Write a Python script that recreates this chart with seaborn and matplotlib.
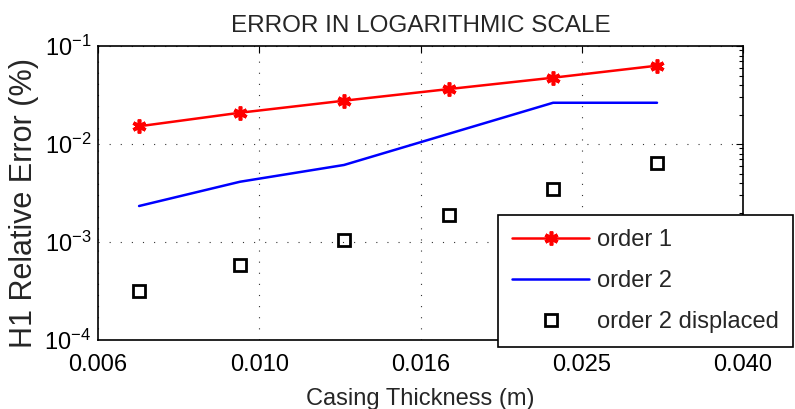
import matplotlib
matplotlib.use("Agg")
import matplotlib.pyplot as plt
import seaborn as sns
import numpy as np
import pandas as pd
from matplotlib.ticker import LogLocator, NullLocator, FixedLocator, FixedFormatter

# ---- data ----
thickness = [0.00677, 0.00911, 0.01237, 0.01685, 0.02288, 0.03106]
order1 = [0.01517, 0.02086, 0.02767, 0.0364, 0.0475, 0.0630]
order2 = [0.00233, 0.00412, 0.00611, 0.01274, 0.02636, 0.02636]
order2_displaced = [0.000318, 0.000578, 0.001047, 0.001887, 0.003475, 0.00636]

x_ticks = [0.006, 0.00964, 0.0155, 0.0249, 0.040]
x_tick_labels = ["0.006", "0.010", "0.016", "0.025", "0.040"]

df = pd.DataFrame({"x": thickness, "o1": order1, "o2": order2, "o2d": order2_displaced})

sns.set_style("white")
plt.rcParams["font.family"] = ["Liberation Sans", "DejaVu Sans"]
plt.rcParams["mathtext.fontset"] = "custom"
plt.rcParams["mathtext.rm"] = "Liberation Sans"
plt.rcParams["mathtext.it"] = "Liberation Sans:italic"

FS = 17

fig = plt.figure(figsize=(7.95, 4.09), dpi=100)
ax = fig.add_axes([0.1233, 0.1687, 0.9346 - 0.1233, 0.8875 - 0.1687])

sns.lineplot(data=df, x="x", y="o1", ax=ax, color="red", linewidth=1.8,
             marker=(6, 2, 0), markersize=10, markeredgecolor="red", markeredgewidth=2.6,
             label="order 1")
sns.lineplot(data=df, x="x", y="o2", ax=ax, color="blue", linewidth=1.8,
             label="order 2")
sns.lineplot(data=df, x="x", y="o2d", ax=ax, color="black", linestyle="",
             marker="s", markersize=9, markerfacecolor="none",
             markeredgecolor="black", markeredgewidth=2.0,
             label="order 2 displaced")

ax.set_xscale("log")
ax.set_yscale("log")
ax.set_xlim(0.006, 0.040)
ax.set_ylim(1e-4, 1e-1)

ax.xaxis.set_major_locator(FixedLocator(x_ticks))
ax.xaxis.set_major_formatter(FixedFormatter(x_tick_labels))
ax.xaxis.set_minor_locator(NullLocator())
ax.yaxis.set_major_locator(LogLocator(base=10, numticks=10))
ax.yaxis.set_minor_locator(LogLocator(base=10, subs=np.arange(2, 10), numticks=10))

ax.tick_params(which="both", direction="in", top=True, right=True,
               labelsize=FS, width=0.8, color="black", labelcolor="black")
ax.tick_params(which="major", length=5)
ax.tick_params(which="minor", length=3)
ax.tick_params(axis="x", which="major", pad=10)
ax.tick_params(axis="y", which="major", pad=5)

ax.grid(True, which="major", linestyle=(0, (1, 9)), color="#333333", linewidth=0.8)

for s in ax.spines.values():
    s.set_color("black")
    s.set_linewidth(1.2)

ax.set_title("ERROR IN LOGARITHMIC SCALE", fontsize=FS + 0.5, pad=10)
ax.set_xlabel("Casing Thickness (m)", fontsize=FS, labelpad=9)
ax.set_ylabel("H1 Relative Error (%)", fontsize=22)
ax.yaxis.set_label_coords(-0.092, 0.466)

leg = ax.legend(loc="upper left", bbox_to_anchor=(0.6264, 0.4743),
                bbox_transform=fig.transFigure, fontsize=FS, frameon=True,
                fancybox=False, framealpha=1, edgecolor="black",
                handlelength=3.25, handletextpad=0.35, labelspacing=0.8,
                borderpad=0.6, borderaxespad=0)
leg.get_frame().set_linewidth(1.2)

fig.savefig("out.png", dpi=100)
